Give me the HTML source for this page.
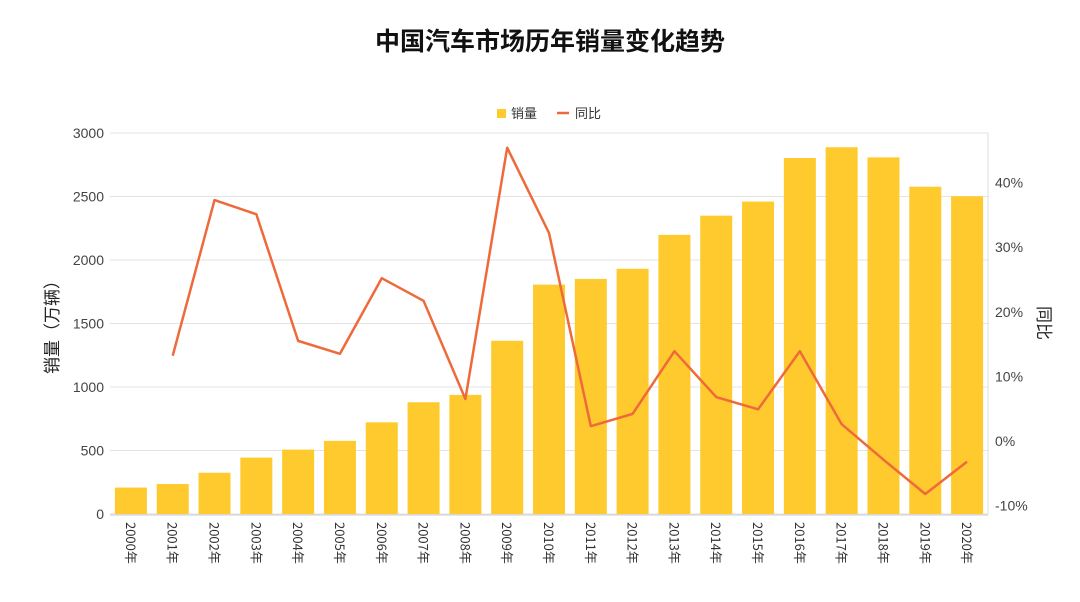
<!DOCTYPE html>
<html><head><meta charset="utf-8"><style>
body{margin:0;background:#fff;width:1080px;height:597px;overflow:hidden;font-family:"Liberation Sans","Noto Sans CJK SC",sans-serif}
</style></head><body>
<svg id="c" width="1080" height="597" xmlns="http://www.w3.org/2000/svg">
<text x="550" y="50" text-anchor="middle" font-size="25" font-weight="bold" fill="#111" font-family="Noto Sans CJK SC, sans-serif">中国汽车市场历年销量变化趋势</text>
<g>
<rect x="497" y="109" width="9" height="9" fill="#FFCA2E"/>
<text x="511" y="118" font-size="13" fill="#333" font-family="Noto Sans CJK SC, sans-serif">销量</text>
<line x1="557" y1="113" x2="569" y2="113" stroke="#EE6A3A" stroke-width="2.5"/>
<text x="575" y="118" font-size="13" fill="#333" font-family="Noto Sans CJK SC, sans-serif">同比</text>
</g>
<text transform="translate(58,323) rotate(-90)" text-anchor="middle" font-size="17" fill="#222" font-family="Noto Sans CJK SC, sans-serif">销量（万辆）</text>
<text transform="translate(1038,323) rotate(90)" text-anchor="middle" font-size="17" fill="#222" font-family="Noto Sans CJK SC, sans-serif">同比</text>
<g id="grid"></g><g id="bars"></g><g id="line"></g><g id="axes"></g>
</svg>
<script>
const categories=["2000年","2001年","2002年","2003年","2004年","2005年","2006年","2007年","2008年","2009年","2010年","2011年","2012年","2013年","2014年","2015年","2016年","2017年","2018年","2019年","2020年"];
const sales=[208,236,325,444,507,576,722,880,938,1364,1806,1851,1931,2198,2349,2460,2803,2888,2808,2577,2502];
const yoy=[null,13.2,37.3,35.1,15.5,13.5,25.2,21.7,6.5,45.4,32.2,2.3,4.2,13.9,6.8,4.9,13.9,2.6,-2.9,-8.2,-3.2];
const leftTicks=[0,500,1000,1500,2000,2500,3000];
const rightTicks=[-10,0,10,20,30,40];
const NS="http://www.w3.org/2000/svg";
const L=110,R=988,T=133,B=514;
const y1=v=>B-(v/3000)*(B-T);
const y2=v=>441-v*6.46;
const band=(R-L)/categories.length;
const xc=i=>L+band*(i+0.5);
function mk(t,a,p){const e=document.createElementNS(NS,t);for(const k in a)e.setAttribute(k,a[k]);document.getElementById(p).appendChild(e);return e;}
leftTicks.forEach(v=>{
 const g=mk("line",{x1:L,x2:R,y1:y1(v),y2:y1(v),stroke:"#e3e3e3","stroke-width":1},"grid");
 
 
 const t=mk("text",{x:104,y:y1(v)+5,"text-anchor":"end","font-size":14,fill:"#444"},"axes");t.textContent=v;
 
 
});
rightTicks.forEach(v=>{
 const t=mk("text",{x:995,y:y2(v)+5,"font-size":14,fill:"#444"},"axes");t.textContent=v+"%";
 
 
});
const ax=mk("line",{x1:L,x2:R,y1:B+1,y2:B+1,stroke:"#ccc"},"axes");


const ra=mk("line",{x1:R,x2:R,y1:T,y2:B,stroke:"#ddd"},"axes");


categories.forEach((c,i)=>{
 const b=mk("rect",{x:xc(i)-16,y:y1(sales[i]),width:32,height:B-y1(sales[i]),fill:"#FFCA2E"},"bars");
 
 
 const t=mk("text",{transform:`translate(${xc(i)-5},522) rotate(90)`,"font-size":13,fill:"#333","font-family":"Noto Sans CJK SC, sans-serif"},"axes");t.textContent=c;
 
 
});
let d="";yoy.forEach((v,i)=>{if(v===null)return;d+=(d?"L":"M")+xc(i)+","+y2(v);});
const p=mk("path",{d:d,fill:"none",stroke:"#EE6A3A","stroke-width":2.5,"stroke-linejoin":"round"},"line");


</script>
</body></html>
